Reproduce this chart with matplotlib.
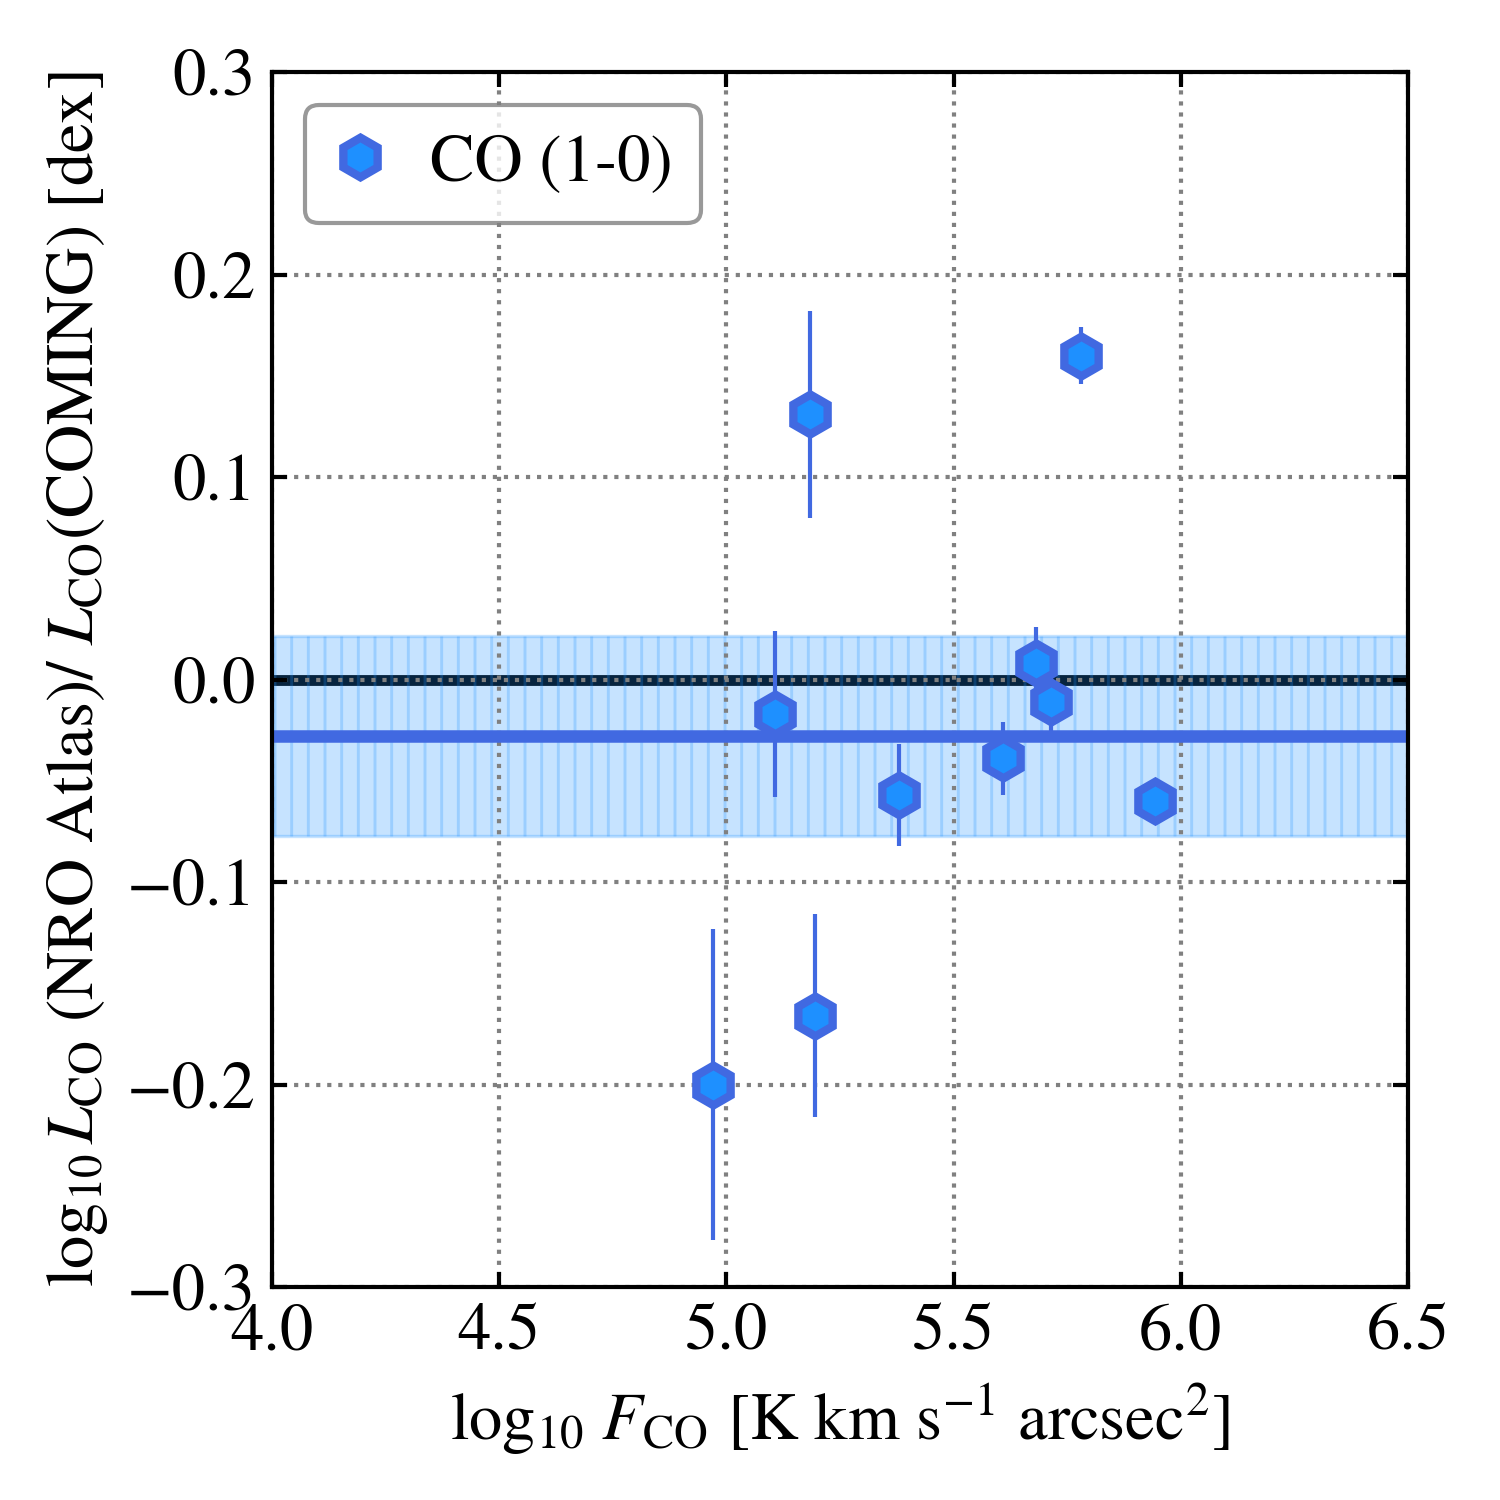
import numpy as np
import matplotlib
matplotlib.use("Agg")
import matplotlib.pyplot as plt

plt.rcParams['font.family'] = 'serif'
plt.rcParams['font.serif'] = ['STIXGeneral', 'Liberation Serif', 'DejaVu Serif']
plt.rcParams['mathtext.fontset'] = 'stix'
plt.rcParams['hatch.linewidth'] = 0.7

# data
log_flux = [4.97, 5.195, 5.107, 5.184, 5.380, 5.609, 5.681, 5.714, 5.780, 5.943]
log_ratio = [-0.200, -0.166, -0.017, 0.131, -0.057, -0.039, 0.008, -0.011, 0.160, -0.060]
ratio_err = [0.077, 0.050, 0.041, 0.051, 0.025, 0.018, 0.018, 0.015, 0.014, 0.004]
mean_ratio = -0.028
std_ratio = 0.0494

fig = plt.figure(figsize=(5, 5), dpi=300)
ax = fig.add_axes([0.1813, 0.142, 0.7574, 0.810])

xlim = (4.0, 6.5)
ax.axhline(0.0, color='black', lw=2.6, zorder=1)
ax.fill_between(xlim, mean_ratio - std_ratio, mean_ratio + std_ratio,
                color='dodgerblue', alpha=0.25, hatch='|||', lw=0.8, zorder=2)
ax.axhline(mean_ratio, color='royalblue', lw=3.0, zorder=3)

ax.errorbar(log_flux, log_ratio, yerr=ratio_err, fmt='none', ecolor='royalblue',
            elinewidth=1.0, capsize=0, zorder=4)
ax.plot(log_flux, log_ratio, 'h', ms=9.5, mfc='dodgerblue', mec='royalblue',
        mew=2.0, zorder=4.5, label='CO (1-0)')

ax.set_xlim(*xlim)
ax.set_ylim(-0.3, 0.3)
ax.set_xticks([4.0, 4.5, 5.0, 5.5, 6.0, 6.5])
ax.set_yticks([-0.3, -0.2, -0.1, 0.0, 0.1, 0.2, 0.3])
ax.set_axisbelow(False)
ax.grid(True, color='gray', ls=':', lw=1.0, zorder=5)
ax.tick_params(direction='in', top=True, right=True, length=3.6, width=1.0,
               labelsize=16, pad=4)
for s in ax.spines.values():
    s.set_linewidth(1.0)
    s.set_zorder(10)

ax.set_xlabel(r'$\log_{10}\,F_{\rm CO}$ [K km s$^{-1}$ arcsec$^{2}$]', fontsize=16)
ax.set_ylabel(r'$\log_{10}L_{\rm CO}$ (NRO Atlas)/ $L_{\rm CO}$(COMING) [dex]', fontsize=16)

leg = ax.legend(loc='upper left', fontsize=16, frameon=True, fancybox=True,
                edgecolor='gray', borderpad=0.42, handlelength=0.8,
                handletextpad=0.65, borderaxespad=0.5, framealpha=0.8)
leg.get_frame().set_linewidth(1.0)
leg.set_zorder(20)

fig.savefig('out.png', dpi=300)
